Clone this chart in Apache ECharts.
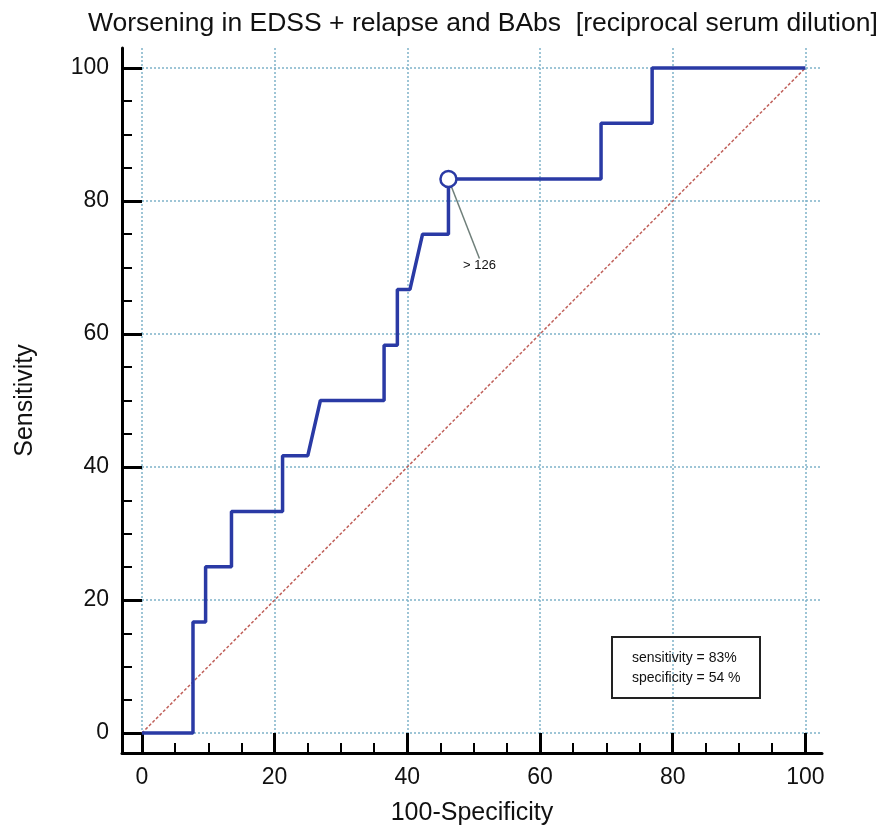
<!DOCTYPE html>
<html>
<head>
<meta charset="utf-8">
<script src="https://cdn.jsdelivr.net/npm/echarts@6/dist/echarts.min.js"></script>
<style>
  html, body { margin: 0; padding: 0; background: #fff; }
  #chart { width: 892px; height: 828px; }
</style>
</head>
<body>
<div id="chart"></div>
<script>
// ROC curve points (100-Specificity, Sensitivity)
const rocX = [0, 7.7, 7.7, 9.6, 9.6, 13.5, 13.5, 21.2, 21.2, 25.0, 26.9, 36.5, 36.5, 38.5, 38.5, 40.4, 42.3, 46.2, 46.2, 69.2, 69.2, 76.9, 76.9, 100];
const rocY = [0, 0, 16.7, 16.7, 25, 25, 33.3, 33.3, 41.7, 41.7, 50, 50, 58.3, 58.3, 66.7, 66.7, 75, 75, 83.3, 83.3, 91.7, 91.7, 100, 100];
// reference diagonal
const diagX = [0, 100];
const diagY = [0, 100];
// optimal cut-off point
const cutPoint = [46.2, 83.3];
const cutLabel = '> 126';
// axis ticks
const majorTicks = [0, 20, 40, 60, 80, 100];
const minorTicks = [0, 5, 10, 15, 20, 25, 30, 35, 40, 45, 50, 55, 60, 65, 70, 75, 80, 85, 90, 95, 100];

const chart = echarts.init(document.getElementById('chart'));

const gridLine = { show: true, lineStyle: { color: '#7fb2c9', type: [2, 2], width: 1.5 } };

const mainAxis = (name, extra) => Object.assign({
  type: 'value',
  min: -3,
  name: name,
  nameLocation: 'middle',
  nameTextStyle: { fontSize: 25, color: '#111', fontFamily: 'Liberation Sans' },
  axisLine: { show: true, onZero: false, lineStyle: { color: '#000', width: 3 } },
  axisTick: { show: true, inside: true, length: 20, customValues: majorTicks, lineStyle: { color: '#000', width: 3 } },
  axisLabel: { show: true, customValues: majorTicks, fontSize: 23, color: '#111', margin: 13, fontFamily: 'Liberation Sans' },
  splitLine: gridLine
}, extra);

const minorAxis = (extra) => Object.assign({
  type: 'value',
  min: -3,
  axisLine: { show: false, onZero: false },
  axisTick: { show: true, inside: true, length: 10, customValues: minorTicks, lineStyle: { color: '#000', width: 2 } },
  axisLabel: { show: false },
  splitLine: { show: false }
}, extra);

const option = {
  backgroundColor: '#fff',
  animation: false,
  title: [{
    text: 'Worsening in EDSS + relapse and BAbs  [reciprocal serum dilution]',
    left: 83,
    top: 5,
    textStyle: { fontSize: 26.5, fontWeight: 'normal', color: '#111', fontFamily: 'Liberation Sans' }
  }, {
    text: 'sensitivity = 83%\nspecificity = 54 %',
    left: 612,
    top: 637,
    padding: [11, 20, 10, 20],
    borderColor: '#222',
    borderWidth: 2,
    textStyle: { fontSize: 14, fontWeight: 'normal', color: '#111', lineHeight: 20, fontFamily: 'Liberation Sans' }
  }],
  grid: { left: 122, right: 70, top: 48, bottom: 75, outerBoundsMode: 'none' },
  xAxis: [
    mainAxis('100-Specificity', { max: 102.5, position: 'bottom', nameGap: 48 }),
    minorAxis({ max: 102.5, position: 'bottom' })
  ],
  yAxis: [
    mainAxis('Sensitivity', { max: 103, position: 'left', nameGap: 84 }),
    minorAxis({ max: 103, position: 'left' })
  ],
  series: [{
    type: 'line',
    data: diagX.map((x, i) => [x, diagY[i]]),
    symbol: 'none',
    lineStyle: { color: '#c0605a', width: 1.5, type: [3, 2] },
    z: 2
  }, {
    type: 'line',
    data: rocX.map((x, i) => [x, rocY[i]]),
    symbol: 'none',
    lineStyle: { color: '#2a3aa5', width: 3.5 },
    z: 3
  }, {
    type: 'scatter',
    data: [cutPoint],
    symbol: 'circle',
    symbolSize: 16,
    itemStyle: { color: '#fff', borderColor: '#2a3aa5', borderWidth: 2.5, opacity: 1 },
    label: {
      show: true,
      formatter: cutLabel,
      position: 'inside',
      fontSize: 13,
      color: '#111',
      fontFamily: 'Liberation Sans'
    },
    labelLayout: { dx: 31, dy: 86 },
    labelLine: { show: true, lineStyle: { color: '#6f7f7a', width: 1.5 } },
    z: 4
  }]
};

chart.setOption(option);
</script>
</body>
</html>
